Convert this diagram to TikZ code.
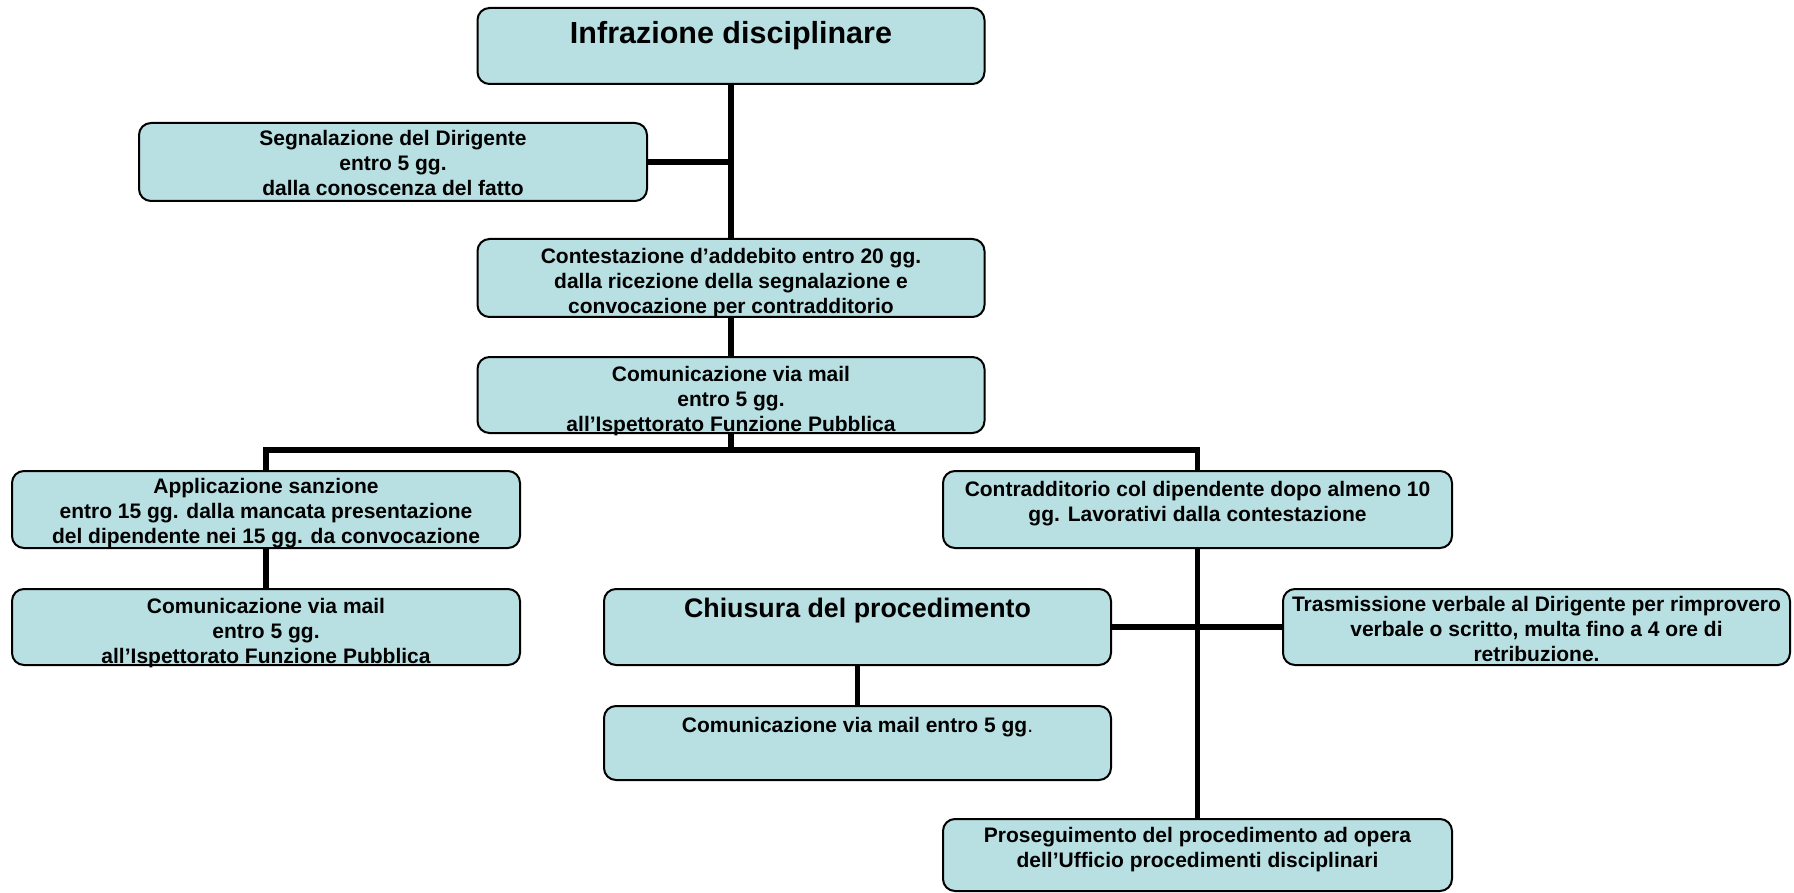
\documentclass[tikz,border=0pt]{standalone}
\usepackage{fontspec}
\setmainfont{Liberation Sans}
\definecolor{boxfill}{RGB}{184,223,226}
\newcommand{\boxtext}[4]{\parbox[c][#2pt][t]{#1pt}{\centering\rule{0pt}{#3pt}#4}}

\begin{document}
\begin{tikzpicture}[x=1pt,y=-1pt]
\tikzstyle{stepbox}=[draw, fill=boxfill, line width=2pt, rounded corners=12pt, inner sep=0pt, font=\fontsize{21}{25}\selectfont\bfseries]
\tikzstyle{bigbox}=[stepbox, font=\fontsize{30.5}{34}\selectfont\bfseries]
\tikzstyle{midbox}=[stepbox, font=\fontsize{26.8}{30}\selectfont\bfseries]
\tikzstyle{link}=[line width=5.5pt]

\path[use as bounding box, fill=white] (0,0) rectangle (1794,893);

\draw (731,46) node[bigbox] (infr) {\boxtext{507}{76}{36}{Infrazione disciplinare}};
\draw (393,162) node[stepbox] (segn) {\boxtext{508}{78}{23}{Segnalazione del Dirigente\\entro 5 gg.\\dalla conoscenza del fatto}};
\draw (731,278) node[stepbox] (contest) {\boxtext{507}{78}{25}{Contestazione d’addebito entro 20 gg.\\dalla ricezione della segnalazione e\\convocazione per contradditorio}};
\draw (731,395) node[stepbox] (mail1) {\boxtext{507}{76}{24}{Comunicazione via mail\\entro 5 gg.\\all’Ispettorato Funzione Pubblica}};
\draw (266,509.5) node[stepbox] (sanz) {\boxtext{508}{77}{22}{Applicazione sanzione\\entro 15 gg. dalla mancata presentazione\\del dipendente nei 15 gg. da convocazione}};
\draw (266,627) node[stepbox] (mail2) {\boxtext{508}{76}{24}{Comunicazione via mail\\entro 5 gg.\\all’Ispettorato Funzione Pubblica}};
\draw (1197.5,509.5) node[stepbox] (contr) {\boxtext{509}{77}{25}{Contradditorio col dipendente dopo almeno 10\\gg. Lavorativi dalla contestazione}};
\draw (857.5,627) node[midbox] (chius) {\boxtext{507}{76}{28}{Chiusura del procedimento}};
\draw (1536.5,627) node[stepbox] (trasm) {\boxtext{507}{76}{22}{Trasmissione verbale al Dirigente per rimprovero\\verbale o scritto, multa fino a 4 ore di\\retribuzione.}};
\draw (857.5,743) node[stepbox] (mail3) {\boxtext{507}{74}{26}{Comunicazione via mail entro 5 gg{\mdseries .}}};
\draw (1197.5,855) node[stepbox] (prosec) {\boxtext{509}{72}{23}{Proseguimento del procedimento ad opera\\dell’Ufficio procedimenti disciplinari}};

\coordinate (bus) at (731,450);

\draw[link] (infr) edge (contest);
\draw[link] (segn) -- (segn -| infr);
\draw[link] (contest) edge (mail1);
\draw[link] (mail1) -- (bus);
\draw[link] (sanz) |- (bus) -| (contr);
\draw[link] (sanz) edge (mail2);
\draw[link] (contr) edge (prosec);
\draw[link] (chius) edge (trasm);
\draw[link] (chius) edge (mail3);
\end{tikzpicture}
\end{document}
